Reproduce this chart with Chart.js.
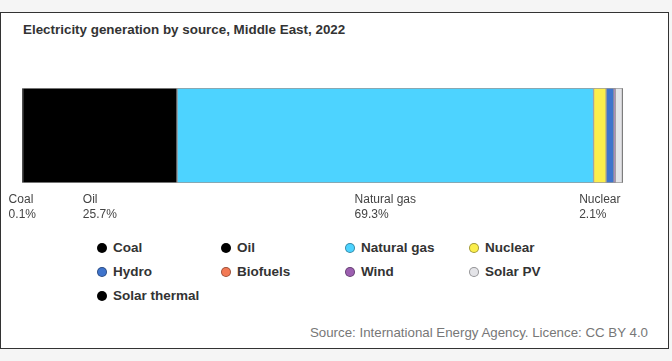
<!DOCTYPE html>
<html>
<head>
<meta charset="utf-8">
<script src="https://cdn.jsdelivr.net/npm/chart.js@4"></script>
<style>
  body { margin: 0; background: #f5f5f5; font-family: "Liberation Sans", Arial, sans-serif; }
  #box { position: absolute; left: 0; top: 12px; width: 667px; height: 335px; background: #fff; border: 1.5px solid #333; }
  #title { position: absolute; left: 22px; top: 9px; font-size: 13.4px; font-weight: bold; color: #333; }
  #wrap { position: absolute; left: 0; top: 66px; width: 667px; height: 150px; }
  #legend { position: absolute; left: 0; top: 227px; width: 667px; }
  .item { position: absolute; font-size: 13.5px; font-weight: bold; color: #333; white-space: nowrap; line-height: 16px; }
  .dot { display: inline-block; width: 10px; height: 10px; border-radius: 50%; margin-right: 6px; vertical-align: -1px; box-sizing: border-box; border: 1px solid rgba(0,0,0,0.35); }
  #source { position: absolute; right: 20px; top: 312px; font-size: 13.3px; color: #777; }
</style>
</head>
<body>
<div id="box">
  <div id="title">Electricity generation by source, Middle East, 2022</div>
  <div id="wrap"><canvas id="chart"></canvas></div>
  <div id="legend"></div>
  <div id="source">Source: International Energy Agency. Licence: CC BY 4.0</div>
</div>
<script>
const sources = ['Coal', 'Oil', 'Natural gas', 'Nuclear', 'Hydro', 'Biofuels', 'Wind', 'Solar PV', 'Solar thermal'];
const shares = [0.1, 25.7, 69.3, 2.1, 1.3, 0.0, 0.2, 1.2, 0.1];
const colors = ['#000000', '#000000', '#4dd3ff', '#fbee4c', '#3f74cc', '#f37a55', '#9c5fb0', '#e4e4e8', '#000000'];
const labelled = ['Coal', 'Oil', 'Natural gas', 'Nuclear'];

const datasets = sources.map((s, i) => ({
    label: s,
    data: [shares[i]],
    backgroundColor: colors[i],
    borderColor: '#9a9a9a',
    borderWidth: 1,
    borderSkipped: false,
    barPercentage: 1,
    categoryPercentage: 1
}));

// labels under the bar, centred on each segment
const segLabels = {
    id: 'segLabels',
    afterDatasetsDraw(chart) {
        const ctx = chart.ctx;
        const x = chart.scales.x;
        const bottom = chart.chartArea.bottom;
        ctx.save();
        ctx.font = '12px "Liberation Sans", Arial, sans-serif';
        ctx.fillStyle = '#444';
        ctx.textAlign = 'left';
        ctx.textBaseline = 'middle';
        let start = 0;
        sources.forEach((s, i) => {
            const mid = x.getPixelForValue(start + shares[i] / 2);
            start += shares[i];
            if (!labelled.includes(s)) return;
            const pct = shares[i].toFixed(1) + '%';
            const w = Math.max(ctx.measureText(s).width, ctx.measureText(pct).width);
            ctx.fillText(s, mid - w / 2, bottom + 17);
            ctx.fillText(pct, mid - w / 2, bottom + 32);
        });
        ctx.restore();
    }
};

new Chart(document.getElementById('chart'), {
    type: 'bar',
    data: { labels: ['2022'], datasets },
    options: {
        indexAxis: 'y',
        responsive: true, maintainAspectRatio: false,
        animation: false,
        layout: { padding: { left: 21, right: 45, top: 9, bottom: 46 } },
        scales: {
            x: { stacked: true, min: 0, max: 100, display: false },
            y: { stacked: true, display: false }
        },
        plugins: { legend: { display: false }, tooltip: { enabled: false } }
    },
    plugins: [segLabels]
});

// legend, 4 columns
const colX = [96, 220, 344, 468];
const rowY = [0, 24, 48];
const legend = document.getElementById('legend');
sources.forEach((s, i) => {
    const el = document.createElement('div');
    el.className = 'item';
    el.style.left = colX[i % 4] + 'px';
    el.style.top = rowY[Math.floor(i / 4)] + 'px';
    el.innerHTML = '<span class="dot" style="background:' + colors[i] + '"></span>' + s;
    legend.appendChild(el);
});
</script>
</body>
</html>
